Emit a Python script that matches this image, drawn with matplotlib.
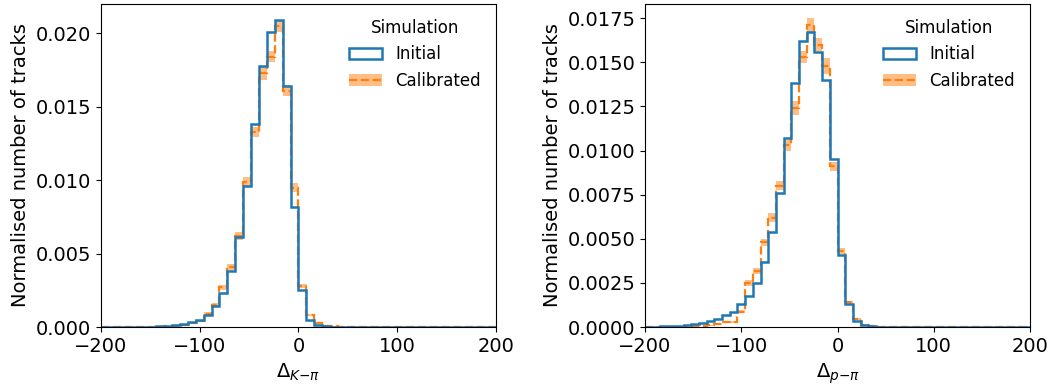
import numpy as np
import matplotlib
matplotlib.use("Agg")
import matplotlib.pyplot as plt
from matplotlib.patches import Patch
from matplotlib.lines import Line2D

# 50 bins of width 8 between -200 and 200
edges = np.arange(-200, 201, 8)

# K-pi separation: initial and calibrated simulation (normalised)
initial_k = [
    0.00001, 0.00001, 0.00001, 0.00001, 0.00002, 0.00002, 0.00003, 0.00005,
    0.00008, 0.00012, 0.0002, 0.00036, 0.0005, 0.0008, 0.0014, 0.0023,
    0.0038, 0.0061, 0.0096, 0.0138, 0.0178, 0.0201, 0.0209, 0.0164,
    0.0082, 0.0025, 0.0005, 0.00015, 0.00005, 0.00003, 0.00002, 0.00001,
    0.00001, 0.00001, 0.00001, 0.00001, 0.0, 0.0, 0.0, 0.0,
    0.0, 0.0, 0.0, 0.0, 0.0, 0.0, 0.0, 0.0, 0.0, 0.0,
]
calibrated_k = [
    0.00001, 0.00001, 0.00001, 0.00001, 0.00001, 0.00001, 0.00002, 0.00003,
    0.00005, 0.00008, 0.00015, 0.0003, 0.0004, 0.0009, 0.0015, 0.0027,
    0.0041, 0.0062, 0.0099, 0.0133, 0.0173, 0.0184, 0.0205, 0.0161,
    0.0095, 0.0028, 0.0008, 0.0003, 0.0001, 0.00005, 0.00002, 0.00001,
    0.00001, 0.00001, 0.0, 0.0, 0.0, 0.0, 0.0, 0.0,
    0.0, 0.0, 0.0, 0.0, 0.0, 0.0, 0.0, 0.0, 0.0, 0.0,
]
calibrated_k_err = [
    0.00001, 0.00001, 0.00001, 0.00001, 0.00001, 0.00001, 0.00001, 0.00002,
    0.00002, 0.00003, 0.00004, 0.00005, 0.00006, 0.00009, 0.00012, 0.00016,
    0.0002, 0.00024, 0.0003, 0.00035, 0.00045, 0.00038, 0.00043, 0.00038,
    0.00033, 0.00016, 0.00008, 0.00005, 0.00003, 0.00002, 0.00001, 0.00001,
    0.00001, 0.00001, 0.0, 0.0, 0.0, 0.0, 0.0, 0.0,
    0.0, 0.0, 0.0, 0.0, 0.0, 0.0, 0.0, 0.0, 0.0, 0.0,
]

# p-pi separation
initial_p = [
    0.00001, 0.00002, 0.00003, 0.00005, 0.00008, 0.00012, 0.00017, 0.00024,
    0.00034, 0.00044, 0.00068, 0.00087, 0.0013, 0.00176, 0.0025, 0.0037,
    0.0054, 0.0076, 0.0107, 0.0138, 0.0162, 0.0167, 0.0156, 0.0140,
    0.0095, 0.0041, 0.0013, 0.00036, 0.00012, 0.00004, 0.00002, 0.00001,
    0.00001, 0.0, 0.0, 0.0, 0.0, 0.0, 0.0, 0.0,
    0.0, 0.0, 0.0, 0.0, 0.0, 0.0, 0.0, 0.0, 0.0, 0.0,
]
calibrated_p = [
    0.00001, 0.00001, 0.00001, 0.00002, 0.00002, 0.00003, 0.00004, 0.00006,
    0.0001, 0.00017, 0.0003, 0.0003, 0.00087, 0.0025, 0.0032, 0.0048,
    0.0062, 0.0080, 0.0103, 0.0124, 0.0153, 0.0171, 0.0160, 0.0148,
    0.0091, 0.0043, 0.0014, 0.00044, 0.00012, 0.00004, 0.00002, 0.00001,
    0.0, 0.0, 0.0, 0.0, 0.0, 0.0, 0.0, 0.0,
    0.0, 0.0, 0.0, 0.0, 0.0, 0.0, 0.0, 0.0, 0.0, 0.0,
]
calibrated_p_err = [
    0.00001, 0.00001, 0.00001, 0.00001, 0.00001, 0.00002, 0.00002, 0.00002,
    0.00003, 0.00004, 0.00005, 0.00005, 0.00009, 0.00015, 0.00017, 0.0002,
    0.00024, 0.00026, 0.0003, 0.0004, 0.00035, 0.00038, 0.00038, 0.00045,
    0.00025, 0.00018, 0.0001, 0.00005, 0.00003, 0.00002, 0.00001, 0.00001,
    0.0, 0.0, 0.0, 0.0, 0.0, 0.0, 0.0, 0.0,
    0.0, 0.0, 0.0, 0.0, 0.0, 0.0, 0.0, 0.0, 0.0, 0.0,
]

panels = [
    (initial_k, calibrated_k, calibrated_k_err, r"$\Delta_{K\mathrm{-}\pi}$", 0.0220),
    (initial_p, calibrated_p, calibrated_p_err, r"$\Delta_{p\mathrm{-}\pi}$", 0.0183),
]

fig = plt.figure(figsize=(10.56, 3.85), dpi=100)
axes = [fig.add_axes([0.0956, 0.1506, 0.374, 0.839]),
        fig.add_axes([0.6108, 0.1506, 0.3646, 0.839])]

centres = 0.5 * (edges[:-1] + edges[1:])

for ax, (init, calib, err, xlab, ytop) in zip(axes, panels):
    calib = np.array(calib)
    err = np.array(err)
    # calibrated: uncertainty band plus dashed step line
    ax.stairs(calib + err, edges, baseline=calib - err, fill=True,
              color="C1", alpha=0.5, lw=0)
    ax.stairs(calib, edges, color="C1", ls="--", lw=1.6)
    # initial simulation
    ax.hist(centres, bins=edges, weights=init, histtype="step",
            color="C0", lw=1.8)

    ax.set_xlim(-200, 200)
    ax.set_ylim(0, ytop)
    ax.set_xlabel(xlab, fontsize=14)
    ax.set_ylabel("Normalised number of tracks", fontsize=14)
    ax.tick_params(labelsize=14)

    handles = [Patch(facecolor="none", edgecolor="C0", lw=1.8),
               (Patch(facecolor="C1", alpha=0.5, lw=0),
                Line2D([], [], color="C1", ls="--", lw=1.6))]
    ax.legend(handles, ["Initial", "Calibrated"], title="Simulation",
              loc="upper right", frameon=False, fontsize=12, title_fontsize=12)

axes[1].set_yticks(np.arange(0, 0.0176, 0.0025))

fig.savefig("out.png", dpi=100)
